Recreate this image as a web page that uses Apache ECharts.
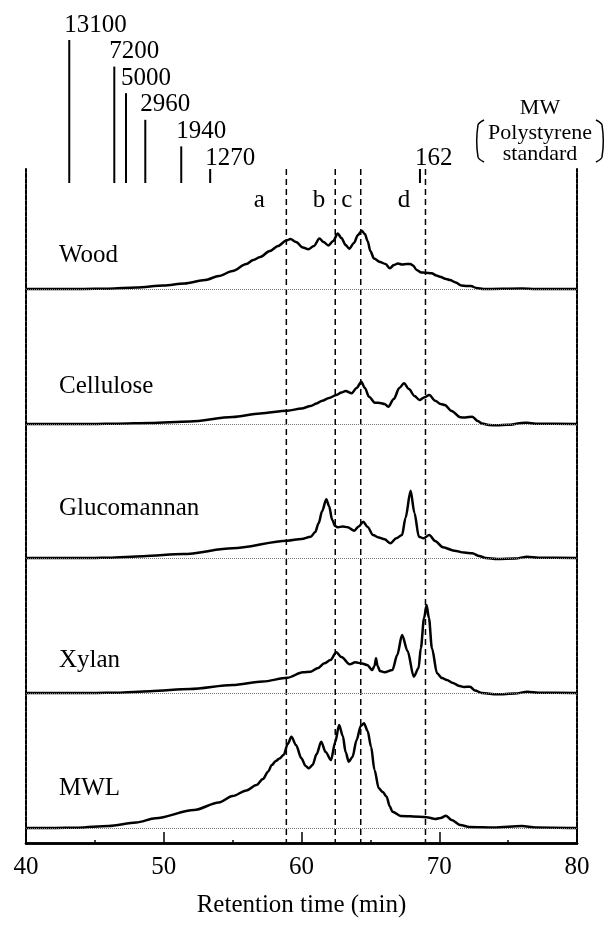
<!DOCTYPE html>
<html><head><meta charset="utf-8">
<script src="https://cdn.jsdelivr.net/npm/echarts@6/dist/echarts.min.js"></script>
<style>html,body{margin:0;padding:0;background:#fff;}#c{width:606px;height:926px;}</style>
</head><body><div id="c"></div>
<script>
// ---------------- DATA ----------------
const sampleNames = ['Wood', 'Cellulose', 'Glucomannan', 'Xylan', 'MWL'];

const woodT = [40,44,46,48,50,51.5,53,54,55,56,56.5,57,57.7,58.3,58.9,59.2,59.6,60.1,60.5,60.9,61.3,61.6,61.95,62.3,62.63,62.9,63.2,63.47,63.8,64.1,64.37,64.6,64.8,65.0,65.26,65.7,66.1,66.42,66.7,67.0,67.3,67.64,67.9,68.1,68.36,68.7,68.97,69.45,69.8,70.05,70.5,70.78,71.2,71.6,72.0,72.3,72.7,73.2,76,77,80];
const woodY = [0,0,0.3,1.5,3.5,5.5,9,13,18,25,29,32,38,43,48.5,50,47,41.5,39.7,43,50.5,47,43.5,48,55.5,51,44,40.3,46,54,58.3,55,48,38,30.5,27,25,20.7,24,25.5,24.5,25,25,23.5,19,16.5,16.3,15.7,13.5,12.3,10,9,6.5,3.5,3,3,1,0,0.5,0,0];

const celluloseT = [40,45,46.6,49,51.9,55,57,58.98,60,60.67,61.1,61.5,62,62.53,62.9,63.2,63.64,64.0,64.34,64.6,64.9,65.33,65.7,66.03,66.3,66.7,67.1,67.44,67.8,68.2,68.57,68.9,69.28,69.7,70.1,70.4,70.9,71.53,71.9,72.4,72.8,73.1,73.6,74.2,75.0,76.0,76.4,77,80];
const celluloseY = [0,0,0.3,1,2.5,7,10.5,13.3,15.5,18,20.5,23.3,26,29,31.5,33,30.7,36,42.3,36,27.3,21.3,21,20,17.3,25,36,40.7,35,28,24,26.5,29,23.3,20,19,13,6.7,6.5,7.3,3,0.5,-1,-1.3,-0.8,1,1.3,0.3,0];

const glucomannanT = [40,45,46,48.5,51.4,55,58.98,60,60.67,61.0,61.24,61.5,61.8,62.0,62.23,62.45,62.64,63.0,63.35,63.83,64.15,64.48,64.8,65.19,65.6,66.03,66.46,66.88,67.3,67.55,67.92,68.2,68.52,68.86,69.28,69.7,70.27,71.1,71.8,72.4,72.9,73.37,74.2,75.5,76.4,77.2,80];
const glucomannanY = [0,0,0.3,1.8,4,9.7,17.3,19,21.3,26,34.7,47,58.7,52,38,32,30.7,31.5,30.7,27.3,31.5,36.3,31,23,20.5,18.7,14.7,19.7,23,40,67.3,45,21.3,19.7,23,17,10.7,7.3,5.5,4.7,2,0,-1,-0.5,1.3,0.3,0];

const xylanT = [40,45,46.6,49,51.9,55,57.2,58.98,60.1,60.67,61.2,61.66,62.1,62.53,62.9,63.5,63.9,64.4,64.77,65.13,65.3,65.41,65.52,65.7,66.03,66.6,66.95,67.3,67.7,68.15,68.5,68.66,68.9,69.08,69.25,69.47,69.84,70.2,70.55,71.0,71.4,71.8,72.23,72.6,73.1,74.2,75.5,76.4,77.2,80];
const xylanY = [0,0,0.3,1.8,4,8,11.5,15.3,20.7,21.3,25,29.7,33,40.7,36,28.7,30.7,29.5,28,23,27,34.7,27,22,20.7,23,38,58,42,16.3,25,44.7,75,88,75,44.7,19.7,15,13,10,7.3,6,6.3,2.5,0,-1.3,-0.5,1.3,0.3,0];

const mwlT = [40,42,43.75,46,48,49.4,52.2,54,55,56,56.73,57.2,57.57,57.85,58.13,58.4,58.7,59.0,59.27,59.6,59.99,60.3,60.53,60.8,61.1,61.43,61.75,62.14,62.45,62.73,63.0,63.2,63.43,63.7,64.0,64.3,64.54,64.8,65.05,65.3,65.61,65.9,66.18,66.4,66.6,67.2,68.57,69.2,69.7,70.1,70.49,70.9,71.53,72.2,74,76,77,80];
const mwlY = [0,0,0.3,2,5.5,9.7,18,25.5,32,37.5,43,49,56.3,63,67,69.5,73,84,91.3,83,69.7,62,59.7,63,74,86.3,76,68,86,103,92,76,66.3,71,88,102,104.7,97,81.3,58,39.7,36,31.3,22,16.3,12,11.3,10.5,9,10,12.3,8,3,1,0.5,2,0.5,0];

// polystyrene standards (MW) and their retention times (min)
const mwLabels = ['13100', '7200', '5000', '2960', '1940', '1270', '162'];
const mwTimes = [43.14, 46.41, 47.26, 48.66, 51.27, 53.37, 68.6];

// fraction boundaries (min) and fraction letters
const boundaryTimes = [58.9, 62.45, 64.3, 69.0];
const regionLetters = ['a', 'b', 'c', 'd'];
const regionLetterTimes = [56.94, 61.27, 63.28, 67.44];

const xMin = 40, xMax = 80, xInterval = 10;
const xName = 'Retention time (min)';

// ---------------- LAYOUT ----------------
const FONT = "'Liberation Serif', 'Times New Roman', serif";
const L = 26, R = 29, TOP = 169, BOT = 843, H = 926;
const baselines = [289, 424, 558, 693, 828];
const nameY = [257, 388, 510, 662, 790];
const mwLevels = [5, 4, 3, 2, 1, 0, 0];

const traces = [[woodT, woodY], [celluloseT, celluloseY], [glucomannanT, glucomannanY], [xylanT, xylanY], [mwlT, mwlY]];

const grids = [{ left: L, right: R, top: TOP, bottom: H - BOT }];
const xAxes = [
  { gridIndex: 0, type: 'value', min: xMin, max: xMax, interval: xInterval, position: 'bottom',
    axisLine: { show: true, lineStyle: { color: '#000', width: 2.5 } },
    axisTick: { show: true, inside: true, length: 11, lineStyle: { color: '#000', width: 1.5 } },
    minorTick: { show: true, splitNumber: 2, length: 3, lineStyle: { color: '#000', width: 1.5 } },
    axisLabel: { color: '#000', fontSize: 25, fontFamily: FONT, margin: 12 },
    splitLine: { show: false },
    name: xName, nameLocation: 'middle', nameGap: 50,
    nameTextStyle: { color: '#000', fontSize: 25, fontFamily: FONT } },
  { gridIndex: 0, type: 'value', min: xMin, max: xMax, interval: xInterval, position: 'top',
    axisLine: { show: true, lineStyle: { color: '#000', width: 2.5 } },
    axisTick: { show: true, inside: false, length: 3, lineStyle: { color: '#000', width: 1.5 } },
    axisLabel: { show: false }, splitLine: { show: false } }
];
const sideAxis = (pos) => ({ gridIndex: 0, type: 'value', min: 0, max: 1, position: pos,
  axisLine: { show: true, lineStyle: { color: '#000', width: 2, type: [4, 1.5] } },
  axisTick: { show: false }, axisLabel: { show: false }, splitLine: { show: false } });
const yAxes = [sideAxis('left'), sideAxis('right')];

const series = [];
traces.forEach((tr, i) => {
  grids.push({ left: L, right: R, top: baselines[i] - 120, height: 125 });
  xAxes.push({ gridIndex: i + 1, type: 'value', min: xMin, max: xMax, show: false });
  yAxes.push({ gridIndex: i + 1, type: 'value', min: -5, max: 120, show: false });
  series.push({
    type: 'line', name: sampleNames[i], xAxisIndex: i + 2, yAxisIndex: i + 2,
    data: tr[0].map((t, k) => [t, tr[1][k]]),
    showSymbol: false, smooth: 0.3, smoothMonotone: 'x', clip: false,
    lineStyle: { color: '#000', width: 2.5 },
    markLine: { silent: true, symbol: 'none', label: { show: false },
      lineStyle: { color: '#777', type: 'dotted', width: 1 }, data: [{ yAxis: 0 }] },
    z: 3
  });
});

// dashed fraction boundaries
series.push({
  type: 'custom', xAxisIndex: 0, yAxisIndex: 0, clip: false, silent: true,
  data: boundaryTimes.map(t => [t, 0]),
  renderItem: (params, api) => {
    const x = api.value(0);
    const p1 = api.coord([x, 1]), p2 = api.coord([x, 0]);
    return { type: 'line', shape: { x1: p1[0], y1: p1[1], x2: p2[0], y2: p2[1] },
      style: { stroke: '#000', lineWidth: 1.5, lineDash: [6, 4] } };
  }, z: 2
});

// MW standard ticks with labels
series.push({
  type: 'custom', xAxisIndex: 0, yAxisIndex: 0, clip: false, silent: true,
  data: mwTimes.map((t, i) => [t, 1, i]),
  renderItem: (params, api) => {
    const x = api.value(0), i = api.value(2);
    const p = api.coord([x, 1]);
    const lvl = mwLevels[i];
    const labelY = p[1] - 11 - lvl * 26.6;
    const topY = lvl > 0 ? labelY + 15 : p[1];
    return { type: 'group', children: [
      { type: 'line', shape: { x1: p[0], y1: topY, x2: p[0], y2: p[1] + 14 },
        style: { stroke: '#000', lineWidth: 2 } },
      { type: 'text', x: p[0] - 5, y: labelY,
        style: { text: mwLabels[i], fill: '#000', font: '25px ' + FONT, align: 'left', verticalAlign: 'middle' } }
    ] };
  }, z: 4
});

// fraction letters
series.push({
  type: 'custom', xAxisIndex: 0, yAxisIndex: 0, clip: false, silent: true,
  data: regionLetterTimes.map((t, i) => [t, 1, i]),
  renderItem: (params, api) => {
    const p = api.coord([api.value(0), 1]);
    return { type: 'text', x: p[0], y: p[1] + 31,
      style: { text: regionLetters[api.value(2)], fill: '#000', font: '25px ' + FONT, align: 'center', verticalAlign: 'middle' } };
  }, z: 4
});

const graphic = sampleNames.map((n, i) => ({
  type: 'text', left: 59, top: nameY[i] - 14,
  style: { text: n, fill: '#000', font: '25px ' + FONT }
}));
const mwText = [['MW', 108], ['Polystyrene', 133], ['standard', 154]];
mwText.forEach(([t, y]) => graphic.push({ type: 'text', x: 540, y: y,
  style: { text: t, fill: '#000', font: '22px ' + FONT, align: 'center', verticalAlign: 'middle' } }));
graphic.push({ type: 'polyline', shape: { points: [[484, 120], [478, 125], [478, 157], [484, 162]], smooth: 0.3 },
  style: { stroke: '#000', lineWidth: 1.5, fill: null } });
graphic.push({ type: 'polyline', shape: { points: [[596, 120], [602, 125], [602, 157], [596, 162]], smooth: 0.3 },
  style: { stroke: '#000', lineWidth: 1.5, fill: null } });

const chart = echarts.init(document.getElementById('c'), null, { renderer: 'canvas' });
chart.setOption({
  animation: false,
  backgroundColor: '#fff',
  grid: grids, xAxis: xAxes, yAxis: yAxes, series: series, graphic: graphic
});
</script></body></html>
